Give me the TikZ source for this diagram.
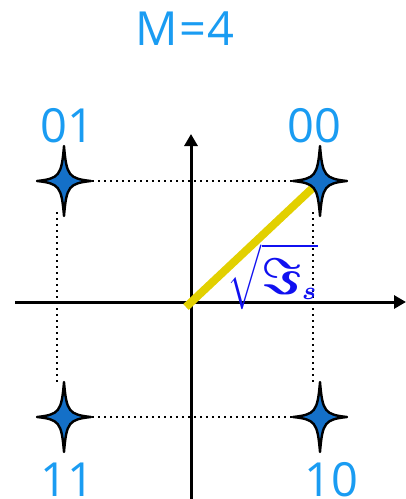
\documentclass[tikz,border=0pt]{standalone}
\usepackage{fontspec}
\setsansfont{Open Sans}
\usetikzlibrary{arrows.meta,calc}
\definecolor{cielo}{HTML}{1A9CF2}
\definecolor{estrella}{HTML}{1470C8}
\definecolor{amarillo}{HTML}{E2D000}
\definecolor{azulm}{HTML}{1010F0}
\tikzset{
 estr/.pic={
  \draw[black,fill=estrella,line width=2.4pt,line join=round] (27,0) .. controls (5,-2.5) and (2.5,-5) .. (0,-35) .. controls (-2.5,-5) and (-5,-2.5) .. (-27,0) .. controls (-5,2.5) and (-2.5,5) .. (0,35) .. controls (2.5,5) and (5,2.5) .. (27,0) -- cycle;
 },
 eje/.style={line width=3pt,-{Triangle[length=12pt,width=13pt]}},
 punteado/.style={line width=2.2pt,dash pattern=on 2.2pt off 3.8pt},
 etiq/.style={font=\sffamily\fontsize{47}{47}\selectfont,text=cielo,inner sep=0pt},
}

\begin{document}
\begin{tikzpicture}[x=1pt,y=-1pt]
\useasboundingbox (0,0) rectangle (406,499);

% ejes
\draw[eje] (15,302) -- (406,302);
\draw[eje] (191,499) -- (191,134);

% simbolos
\coordinate (s01) at (64,181);
\coordinate (s00) at (320,181);
\coordinate (s11) at (64,417);
\coordinate (s10) at (320,417);
\draw[punteado] ($(s01)+(28,0)$) -- ($(s00)-(26,0)$);
\draw[punteado] ($(s11)+(28,0)$) -- ($(s10)-(26,0)$);
\draw[punteado] (57,212) -- (57,384);
\draw[punteado] (313,212) -- (313,384);
\draw[amarillo,line width=8pt] (186,307) -- (s00);
\foreach \s in {s01,s00,s11,s10} \pic at (\s) {estr};

\node[text=azulm,inner sep=0pt] (raiz) at (273,277) {\resizebox*{90pt}{66pt}{\boldmath$\sqrt{\mbox{\Large$\Im$}_s}$}};

\node[etiq] (m) at (185,29) {M\kern2pt=\kern1pt4};
\node[etiq,anchor=base] (e01) at (67,142) {01};
\node[etiq,anchor=base] (e00) at (314,142) {00};
\node[etiq,anchor=base] (e11) at (67,496) {11};
\node[etiq,anchor=base] (e10) at (331,496) {10};
\end{tikzpicture}
\end{document}
